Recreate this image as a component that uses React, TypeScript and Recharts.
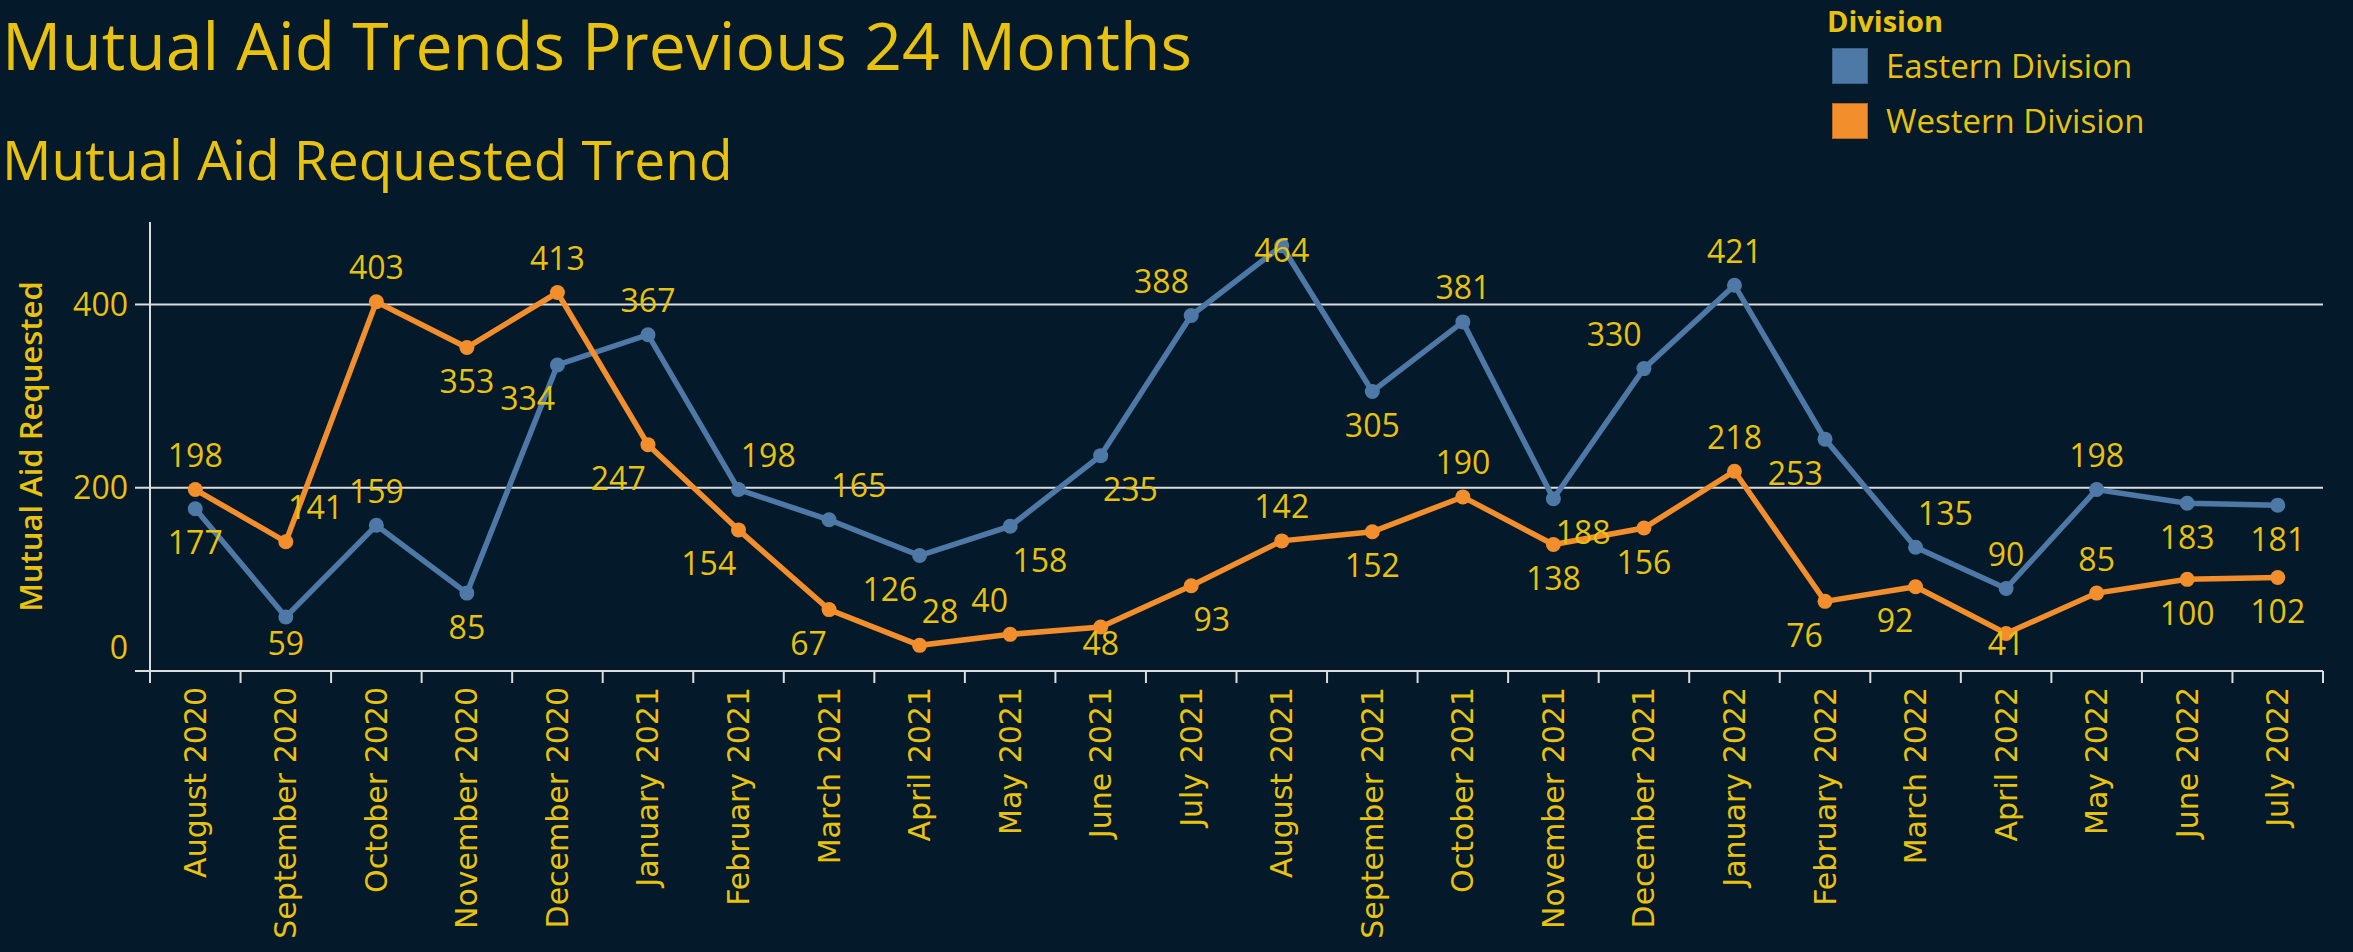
import React from 'react'
import { LineChart, Line, XAxis, YAxis, CartesianGrid } from 'recharts'

const months = [
  'August 2020', 'September 2020', 'October 2020', 'November 2020', 'December 2020',
  'January 2021', 'February 2021', 'March 2021', 'April 2021', 'May 2021', 'June 2021',
  'July 2021', 'August 2021', 'September 2021', 'October 2021', 'November 2021',
  'December 2021', 'January 2022', 'February 2022', 'March 2022', 'April 2022',
  'May 2022', 'June 2022', 'July 2022',
]
const eastern = [177, 59, 159, 85, 334, 367, 198, 165, 126, 158, 235, 388, 464, 305, 381, 188, 330, 421, 253, 135, 90, 198, 183, 181]
const western = [198, 141, 403, 353, 413, 247, 154, 67, 28, 40, 48, 93, 142, 152, 190, 138, 156, 218, 76, 92, 41, 85, 100, 102]
const yTicks = [0, 200, 400]
const seriesNames = ['Eastern Division', 'Western Division']

// where each point label sits relative to its mark (T/B/TL/TR/BL/BR)
const eastLabelPos = ['B', 'B', 'T', 'B', 'BL', 'T', 'TR', 'TR', 'BL', 'BR', 'BR', 'TL', 'T', 'B', 'T', 'BR', 'TL', 'T', 'BL', 'TR', 'T', 'T', 'B', 'B']
const westLabelPos = ['T', 'TR', 'T', 'B', 'T', 'BL', 'BL', 'BL', 'TR', 'TL', 'B', 'BR', 'T', 'B', 'T', 'B', 'B', 'T', 'BL', 'BL', 'B', 'T', 'B', 'B']

const data = months.map((month, i) => ({ month, eastern: eastern[i], western: western[i] }))

const W = 2353
const H = 952
const LEFT = 150
const RIGHT = 30
const TOP = 222
const PLOT_H = 449
const AXIS_Y = TOP + PLOT_H
const PLOT_W = W - LEFT - RIGHT
const STEP = PLOT_W / months.length

const BG = '#041a2a'
const GOLD = '#e8c20e'
const BLUE = '#4e79a7'
const ORANGE = '#f28e2b'
const GRID = '#dcdcdc'
const FONT = '"Open Sans", sans-serif'

const makeLabel = (positions: string[]) => (props: any) => {
  const { x, y, value, index } = props
  if (x == null || y == null) return null
  const pos = positions[index] || 'T'
  const w = String(value).length * 18.5
  let cx = x
  let cy = pos.startsWith('T') ? y - 34 : y + 34
  if (pos.endsWith('L') && pos.length === 2) cx = x - (w / 2 + 2)
  if (pos.endsWith('R')) cx = x + (w / 2 + 2)
  cx = Math.max(cx, LEFT + w / 2 + 1)
  cy = Math.min(Math.max(cy, 250), AXIS_Y - 28)
  return (
    <text key={`l${index}`} x={cx} y={cy} dy="0.36em" textAnchor="middle" fill={GOLD} fontSize={32} fontFamily={FONT}>
      {value}
    </text>
  )
}

const XTick = (props: any) => {
  const { x, payload, index } = props
  const half = STEP / 2
  return (
    <g>
      <line x1={x - half} x2={x - half} y1={AXIS_Y} y2={AXIS_Y + 12} stroke={GRID} strokeWidth={2} />
      {index === months.length - 1 && (
        <line x1={x + half} x2={x + half} y1={AXIS_Y} y2={AXIS_Y + 12} stroke={GRID} strokeWidth={2} />
      )}
      <text
        x={x}
        y={AXIS_Y + 16}
        dy="0.35em"
        textAnchor="end"
        transform={`rotate(-90 ${x} ${AXIS_Y + 16})`}
        fill={GOLD}
        fontSize={30}
        fontFamily='"DejaVu Sans", sans-serif'
      >
        {payload.value}
      </text>
    </g>
  )
}

const YTick = (props: any) => {
  const { y, payload } = props
  return (
    <text x={LEFT - 22} y={payload.value === 0 ? y - 24 : y} dy="0.36em" textAnchor="end" fill={GOLD} fontSize={32} fontFamily={FONT}>
      {payload.value}
    </text>
  )
}

export default function App() {
  return (
    <div style={{ position: 'absolute', left: 0, top: 0, width: W, height: H, background: BG, overflow: 'hidden', fontFamily: FONT }}>
      <div style={{ position: 'absolute', left: 2, top: 11, fontSize: 66, lineHeight: '66px', color: GOLD, whiteSpace: 'nowrap' }}>
        Mutual Aid Trends Previous 24 Months
      </div>
      <div style={{ position: 'absolute', left: 2, top: 131, fontSize: 55, lineHeight: '55px', color: GOLD, whiteSpace: 'nowrap' }}>
        Mutual Aid Requested Trend
      </div>

      <div style={{ position: 'absolute', left: 1827, top: 4, color: GOLD }}>
        <div style={{ fontSize: 29, fontWeight: 700, lineHeight: '34px' }}>Division</div>
        {seriesNames.map((name, i) => (
          <div key={name} style={{ display: 'flex', alignItems: 'center', height: 55 }}>
            <div
              style={{
                width: 36,
                height: 36,
                marginLeft: 5,
                boxSizing: 'border-box',
                background: i === 0 ? BLUE : ORANGE,
                border: `1px solid ${i === 0 ? '#3b5f86' : '#b8691e'}`,
              }}
            />
            <span style={{ marginLeft: 18, fontSize: 33, lineHeight: '36px' }}>{name}</span>
          </div>
        ))}
      </div>

      <LineChart width={W} height={H} data={data} margin={{ top: TOP, right: RIGHT, bottom: 0, left: 0 }}>
        <CartesianGrid vertical={false} horizontalValues={yTicks} stroke={GRID} strokeWidth={2} />
        <XAxis
          dataKey="month"
          type="category"
          interval={0}
          height={H - AXIS_Y}
          padding={{ left: STEP / 2, right: STEP / 2 }}
          axisLine={{ stroke: GRID, strokeWidth: 2 }}
          tickLine={false}
          tick={<XTick />}
        />
        <YAxis
          type="number"
          domain={[0, 490]}
          ticks={yTicks}
          interval={0}
          width={LEFT}
          axisLine={{ stroke: GRID, strokeWidth: 2 }}
          tickLine={{ stroke: GRID, strokeWidth: 2 }}
          tickSize={15}
          tick={<YTick />}
          label={{
            content: () => (
              <text
                x={31}
                y={TOP + PLOT_H / 2}
                dy="0.36em"
                textAnchor="middle"
                transform={`rotate(-90 31 ${TOP + PLOT_H / 2})`}
                fill={GOLD}
                fontSize={31}
                fontWeight={600}
                fontFamily={FONT}
              >
                Mutual Aid Requested
              </text>
            ),
          }}
        />
        <Line dataKey="eastern" name={seriesNames[0]} stroke={BLUE} strokeWidth={5.5} dot={{ r: 7.5, fill: BLUE, stroke: 'none' }} activeDot={false} isAnimationActive={false} />
        <Line dataKey="western" name={seriesNames[1]} stroke={ORANGE} strokeWidth={5.5} dot={{ r: 7.5, fill: ORANGE, stroke: 'none' }} activeDot={false} isAnimationActive={false} />
        <Line dataKey="eastern" stroke="none" dot={false} activeDot={false} legendType="none" label={makeLabel(eastLabelPos)} isAnimationActive={false} />
        <Line dataKey="western" stroke="none" dot={false} activeDot={false} legendType="none" label={makeLabel(westLabelPos)} isAnimationActive={false} />
      </LineChart>
    </div>
  )
}
